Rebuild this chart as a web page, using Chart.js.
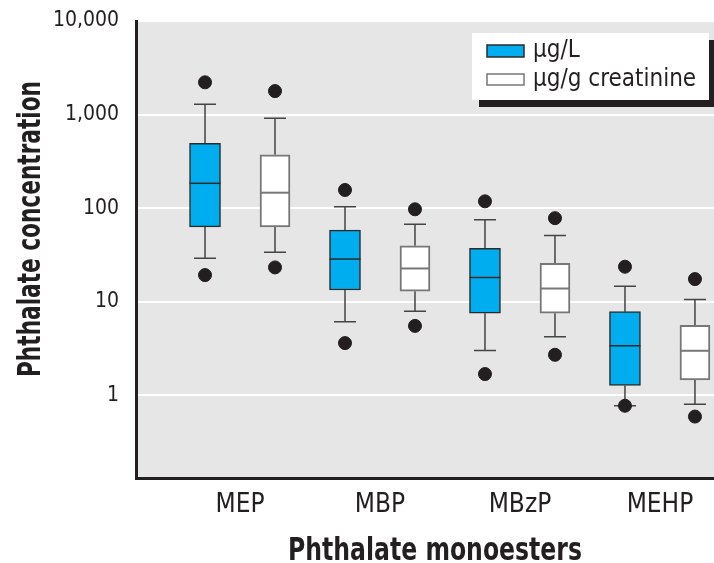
<!DOCTYPE html>
<html>
<head>
<meta charset="utf-8">
<script src="https://cdn.jsdelivr.net/npm/chart.js@4/dist/chart.umd.min.js"></script>
<style>
  html, body { margin: 0; padding: 0; background: #fff; overflow: hidden; }
  #wrap { width: 714px; height: 563px; }
</style>
</head>
<body>
<div id="wrap"><canvas id="boxChart"></canvas></div>
<script>
const categories = ['MEP', 'MBP', 'MBzP', 'MEHP'];
const seriesNames = ['\u00b5g/L', '\u00b5g/g creatinine'];
const yTicks = [1, 10, 100, 1000, 10000];

// µg/L
const litreLowDot = [19.2, 3.6, 1.68, 0.77];
const litreLowWhisker = [29, 6.1, 3.0, 0.77];
const litreQ1 = [63, 13.3, 7.5, 1.27];
const litreMedian = [184, 28.5, 18.1, 3.37];
const litreQ3 = [492, 58, 37, 7.8];
const litreHighWhisker = [1285, 103, 75, 14.6];
const litreHighDot = [2210, 156, 118, 23.6];

// µg/g creatinine
const creatLowDot = [23.2, 5.5, 2.7, 0.59];
const creatLowWhisker = [33.6, 7.9, 4.2, 0.8];
const creatQ1 = [63, 12.9, 7.5, 1.45];
const creatMedian = [146, 22.6, 13.8, 2.98];
const creatQ3 = [371, 39.5, 25.6, 5.56];
const creatHighWhisker = [910, 67, 51, 10.5];
const creatHighDot = [1780, 97, 78, 17.4];

const FONT = "'Liberation Sans Narrow', 'DejaVu Sans Condensed', sans-serif";
const INK = '#231f20';
const BLUE = '#00aeef';

const series = [
  { offset: -0.25, low: litreLowWhisker, q1: litreQ1, med: litreMedian, q3: litreQ3, high: litreHighWhisker, lowDot: litreLowDot, highDot: litreHighDot },
  { offset: 0.25, low: creatLowWhisker, q1: creatQ1, med: creatMedian, q3: creatQ3, high: creatHighWhisker, lowDot: creatLowDot, highDot: creatHighDot }
];

function boxData(s) {
  return categories.map(function (c, i) { return { x: i + s.offset, y: [s.q1[i], s.q3[i]] }; });
}
function dotData() {
  const pts = [];
  series.forEach(function (s) {
    categories.forEach(function (c, i) {
      pts.push({ x: i + s.offset, y: s.lowDot[i] });
      pts.push({ x: i + s.offset, y: s.highDot[i] });
    });
  });
  return pts;
}

const plotBackground = {
  id: 'plotBackground',
  beforeDraw: function (chart) {
    const a = chart.chartArea, ctx = chart.ctx;
    ctx.save();
    ctx.fillStyle = '#e6e6e6';
    ctx.fillRect(a.left, a.top, a.right - a.left, a.bottom - a.top);
    ctx.restore();
  }
};

const whiskers = {
  id: 'whiskers',
  beforeDatasetsDraw: function (chart) {
    const ctx = chart.ctx, xs = chart.scales.x, ys = chart.scales.y;
    ctx.save();
    ctx.strokeStyle = '#444';
    ctx.lineWidth = 1.5;
    series.forEach(function (s) {
      categories.forEach(function (c, i) {
        const x = xs.getPixelForValue(i + s.offset);
        [[s.q3[i], s.high[i]], [s.q1[i], s.low[i]]].forEach(function (p) {
          const y0 = ys.getPixelForValue(p[0]), y1 = ys.getPixelForValue(p[1]);
          ctx.beginPath();
          ctx.moveTo(x, y0);
          ctx.lineTo(x, y1);
          ctx.moveTo(x - 11, y1);
          ctx.lineTo(x + 11, y1);
          ctx.stroke();
        });
      });
    });
    ctx.restore();
  },
  afterDatasetsDraw: function (chart) {
    const ctx = chart.ctx, ys = chart.scales.y;
    ctx.save();
    series.forEach(function (s, d) {
      const meta = chart.getDatasetMeta(d);
      ctx.strokeStyle = d === 0 ? '#2b2b2b' : '#777';
      ctx.lineWidth = d === 0 ? 1.5 : 2;
      meta.data.forEach(function (bar, i) {
        const y = ys.getPixelForValue(s.med[i]);
        ctx.beginPath();
        ctx.moveTo(bar.x - bar.width / 2, y);
        ctx.lineTo(bar.x + bar.width / 2, y);
        ctx.stroke();
      });
    });
    ctx.restore();
  }
};

// condensed bold title: squeeze the text along its own direction to the printed width
function condensedTitle(ctx, text, width) {
  ctx.font = 'bold 32px ' + FONT;
  const sx = width / ctx.measureText(text).width;
  ctx.scale(sx, 1);
  ctx.fillText(text, 0, 0);
}

// legend box with drop shadow, and both axis titles (placed off-centre as in the print)
const boxLegend = {
  id: 'boxLegend',
  afterDraw: function (chart) {
    const ctx = chart.ctx;
    const left = 472, top = 33, w = 237, h = 67;
    ctx.save();
    ctx.fillStyle = INK;
    ctx.fillRect(left + 7, top + 7, w, h);
    ctx.fillStyle = '#fff';
    ctx.fillRect(left, top, w, h);
    ctx.fillStyle = BLUE;
    ctx.fillRect(487, 45, 37, 12);
    ctx.strokeStyle = '#2b2b2b';
    ctx.lineWidth = 1.5;
    ctx.strokeRect(487, 45, 37, 12);
    ctx.fillStyle = '#fff';
    ctx.fillRect(487, 74, 37, 11);
    ctx.strokeStyle = '#777';
    ctx.strokeRect(487, 74, 37, 11);
    ctx.fillStyle = INK;
    ctx.font = '24px ' + FONT;
    ctx.textBaseline = 'middle';
    ctx.fillText(seriesNames[0], 533, 51);
    ctx.fillText(seriesNames[1], 533, 80);

    ctx.textAlign = 'center';
    ctx.textBaseline = 'alphabetic';
    ctx.save();
    ctx.translate(435, 560);
    condensedTitle(ctx, 'Phthalate monoesters', 294);
    ctx.restore();

    ctx.translate(40, 229);
    ctx.rotate(-Math.PI / 2);
    condensedTitle(ctx, 'Phthalate concentration', 296);
    ctx.restore();
  }
};

new Chart(document.getElementById('boxChart').getContext('2d'), {
  type: 'bar',
  data: {
    datasets: [
      {
        label: seriesNames[0],
        data: boxData(series[0]),
        backgroundColor: BLUE,
        borderColor: '#2b2b2b',
        borderWidth: 1.5,
        borderSkipped: false,
        barThickness: 31,
        grouped: false
      },
      {
        label: seriesNames[1],
        data: boxData(series[1]),
        backgroundColor: '#fff',
        borderColor: '#777',
        borderWidth: 2,
        borderSkipped: false,
        barThickness: 30,
        grouped: false
      },
      {
        type: 'scatter',
        label: 'dots',
        data: dotData(),
        backgroundColor: INK,
        borderColor: INK,
        pointRadius: 6.5,
        pointHoverRadius: 6.5
      }
    ]
  },
  options: {
    responsive: true,
    maintainAspectRatio: false,
    animation: false,
    layout: { autoPadding: false, padding: { top: 21, right: 0, left: 0, bottom: 0 } },
    plugins: {
      legend: { display: false },
      tooltip: { enabled: false }
    },
    scales: {
      x: {
        type: 'linear',
        offset: false,
        min: -0.743,
        max: 3.386,
        afterBuildTicks: function (scale) {
          scale.ticks = categories.map(function (c, i) { return { value: i }; });
        },
        afterFit: function (scale) {
          scale.height = 85;
          scale.paddingLeft = 0;
          scale.paddingRight = 0;
        },
        grid: { display: false, drawTicks: false },
        border: { display: true, color: INK, width: 3 },
        ticks: {
          autoSkip: false,
          maxRotation: 0,
          padding: 12,
          color: INK,
          font: { family: FONT, size: 26 },
          callback: function (v) { return categories[v] !== undefined ? categories[v] : ''; }
        },
        title: { display: false }
      },
      y: {
        type: 'logarithmic',
        min: 0.13,
        max: 10000,
        afterBuildTicks: function (scale) {
          scale.ticks = yTicks.map(function (v) { return { value: v }; });
        },
        afterFit: function (scale) {
          scale.width = 136;
          scale.paddingTop = 0;
          scale.paddingBottom = 0;
        },
        grid: { color: '#fff', lineWidth: 2, drawTicks: false },
        border: { display: true, color: INK, width: 3 },
        ticks: {
          padding: 17,
          color: INK,
          font: { family: FONT, size: 21 },
          callback: function (v) { return Number(v).toLocaleString('en-US'); }
        },
        title: { display: false }
      }
    }
  },
  plugins: [plotBackground, whiskers, boxLegend]
});
</script>
</body>
</html>
